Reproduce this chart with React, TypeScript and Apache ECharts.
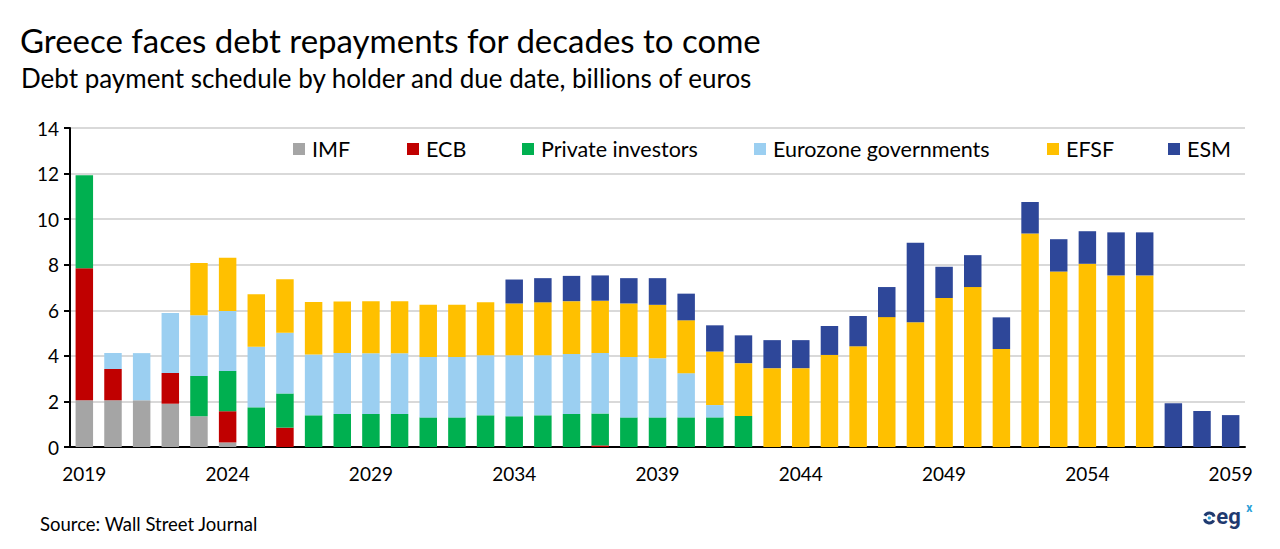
import React, { useEffect, useRef } from "react";
import * as echarts from "echarts";

const years: string[] = [];
for (let y = 2019; y <= 2059; y++) years.push(String(y));

const imf = [2.05, 2.05, 2.05, 1.9, 1.35, 0.2, 0, 0, 0, 0, 0, 0, 0, 0, 0, 0, 0, 0, 0, 0, 0, 0, 0, 0, 0, 0, 0, 0, 0, 0, 0, 0, 0, 0, 0, 0, 0, 0, 0, 0, 0];
const ecb = [5.8, 1.37, 0, 1.35, 0, 1.37, 0, 0.85, 0, 0, 0, 0, 0, 0, 0, 0, 0, 0, 0.07, 0, 0, 0, 0, 0, 0, 0, 0, 0, 0, 0, 0, 0, 0, 0, 0, 0, 0, 0, 0, 0, 0];
const privateInv = [4.08, 0, 0, 0, 1.77, 1.77, 1.74, 1.5, 1.39, 1.45, 1.45, 1.45, 1.3, 1.3, 1.39, 1.35, 1.39, 1.45, 1.4, 1.3, 1.3, 1.3, 1.3, 1.36, 0, 0, 0, 0, 0, 0, 0, 0, 0, 0, 0, 0, 0, 0, 0, 0, 0];
const eurozone = [0, 0.7, 2.07, 2.63, 2.66, 2.63, 2.66, 2.66, 2.67, 2.67, 2.66, 2.66, 2.65, 2.65, 2.64, 2.68, 2.64, 2.63, 2.66, 2.65, 2.59, 1.94, 0.54, 0, 0, 0, 0, 0, 0, 0, 0, 0, 0, 0, 0, 0, 0, 0, 0, 0, 0];
const efsf = [0, 0, 0, 0, 2.3, 2.34, 2.3, 2.35, 2.3, 2.27, 2.29, 2.29, 2.29, 2.29, 2.32, 2.27, 2.32, 2.32, 2.29, 2.35, 2.35, 2.32, 2.35, 2.32, 3.46, 3.46, 4.04, 4.42, 5.7, 5.47, 6.54, 7.02, 4.3, 9.37, 7.7, 8.04, 7.53, 7.53, 0, 0, 0];
const esm = [0, 0, 0, 0, 0, 0, 0, 0, 0, 0, 0, 0, 0, 0, 0, 1.05, 1.06, 1.11, 1.11, 1.11, 1.17, 1.17, 1.15, 1.22, 1.23, 1.23, 1.27, 1.33, 1.32, 3.49, 1.37, 1.4, 1.39, 1.38, 1.42, 1.43, 1.89, 1.89, 1.92, 1.58, 1.4];

const seriesNames = ["IMF", "ECB", "Private investors", "Eurozone governments", "EFSF", "ESM"];
const seriesData = [imf, ecb, privateInv, eurozone, efsf, esm];
const colors = ["#A5A5A5", "#C00000", "#00B050", "#9BCFF1", "#FFC000", "#2E4799"];
const legendLeft = [293, 407, 522, 754, 1047, 1168];

const FONT = "Lato, 'Open Sans', sans-serif";

export default function App() {
  const ref = useRef<HTMLDivElement>(null);
  useEffect(() => {
    if (!ref.current) return;
    const chart = echarts.init(ref.current, undefined, { renderer: "svg" });
    const option: any = {
      animation: false,
      backgroundColor: "#ffffff",
      textStyle: { fontFamily: FONT },
      title: [
        {
          text: "Greece faces debt repayments for decades to come",
          left: 20,
          top: 23,
          padding: 0,
          textStyle: { fontFamily: FONT, fontSize: 33, fontWeight: "normal", color: "#000" },
        },
        {
          text: "Debt payment schedule by holder and due date, billions of euros",
          left: 21,
          top: 65,
          padding: 0,
          textStyle: { fontFamily: FONT, fontSize: 26, fontWeight: "normal", color: "#000" },
        },
      ],
      legend: seriesNames.map((n, i) => ({
        data: [n],
        left: legendLeft[i],
        top: 138,
        padding: 0,
        itemWidth: 12,
        itemHeight: 12,
        icon: "rect",
        selectedMode: false,
        textStyle: { fontFamily: FONT, fontSize: 21.5, color: "#000", padding: [0, 0, 0, 2], lineHeight: 22 },
      })),
      grid: { left: 70, right: 35, top: 128, bottom: 102, containLabel: false },
      xAxis: {
        type: "category",
        data: years,
        axisLine: { lineStyle: { color: "#000", width: 2 } },
        axisTick: { interval: 4, length: 7, lineStyle: { color: "#000", width: 2 } },
        axisLabel: { interval: 4, margin: 17, fontFamily: FONT, fontSize: 19, color: "#000" },
        splitLine: { show: false },
      },
      yAxis: {
        type: "value",
        min: 0,
        max: 14,
        interval: 2,
        axisLine: { show: true, lineStyle: { color: "#000", width: 2 } },
        axisTick: { show: true, length: 6, lineStyle: { color: "#000", width: 2 } },
        axisLabel: { margin: 11, fontFamily: FONT, fontSize: 19, color: "#000" },
        splitLine: { lineStyle: { color: "#D9D9D9", width: 2 } },
      },
      series: seriesNames.map((n, i) => ({
        name: n,
        type: "bar",
        stack: "total",
        barWidth: "61%",
        itemStyle: { color: colors[i] },
        data: seriesData[i],
      })),
      graphic: [
        {
          type: "text",
          left: 40,
          top: 514,
          style: { text: "Source: Wall Street Journal", fontFamily: FONT, fontSize: 18.5, fill: "#000" },
        },
        {
          type: "group",
          left: 1202,
          top: 502,
          children: [
            { type: "arc", shape: { cx: 6, cy: 16, r: 5, startAngle: 3.6, endAngle: 6.0 }, style: { stroke: "#1F3A70", lineWidth: 3, fill: "none" } },
            { type: "arc", shape: { cx: 6, cy: 16, r: 5, startAngle: 0.5, endAngle: 2.9 }, style: { stroke: "#1F3A70", lineWidth: 3, fill: "none" } },
            { type: "circle", shape: { cx: 6, cy: 16, r: 1.6 }, style: { fill: "#2A9FD8" } },
            { type: "text", x: 13, y: 3, style: { text: "eg", fontFamily: "Roboto, sans-serif", fontWeight: "bold", fontSize: 22, fill: "#1F3A70" } },
            { type: "text", x: 43, y: 0, style: { text: "x", fontFamily: "Roboto, sans-serif", fontWeight: "bold", fontSize: 12, fill: "#2A9FD8" } },
          ],
        },
      ],
    };
    chart.setOption(option);
    return () => chart.dispose();
  }, []);
  return <div ref={ref} style={{ width: 1280, height: 549, position: "absolute", left: 0, top: 0 }} />;
}
